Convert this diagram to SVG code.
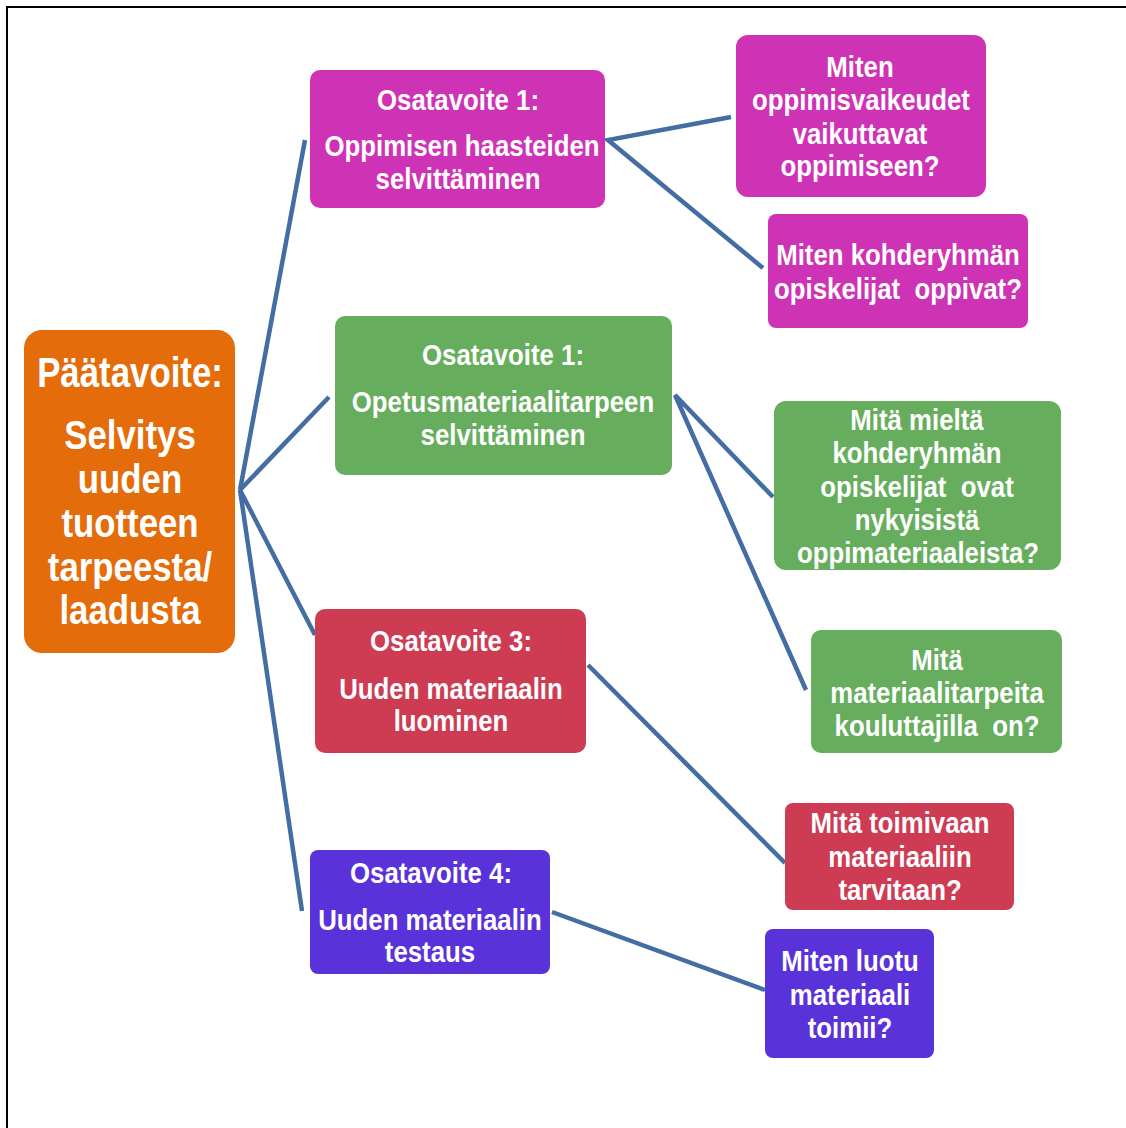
<svg xmlns="http://www.w3.org/2000/svg" width="1126" height="1128" viewBox="0 0 1126 1128">
<style>
.t{font-family:"Liberation Sans","Arial",sans-serif;font-weight:bold;fill:#fff;text-anchor:middle;font-size:30px}
.big{font-size:40px}
.c{stroke:#436DA3;stroke-width:4.5;fill:none;stroke-linecap:butt}
.mg{fill:#CF33B5}.gr{fill:#66AE5D}.rd{fill:#CE3C54}.pu{fill:#5A32D9}.or{fill:#E46C0A}
</style>
<rect width="1126" height="1128" fill="#fff"/>
<path d="M7 1128 V7 H1126" stroke="#000" stroke-width="2" fill="none"/>
<g id="connectors">
<line class="c" x1="240" y1="490" x2="305" y2="140"/>
<line class="c" x1="240" y1="490" x2="329" y2="397"/>
<line class="c" x1="240" y1="490" x2="315" y2="635"/>
<line class="c" x1="240" y1="490" x2="302" y2="911"/>
<polyline class="c" points="731,117 608,140 763,268"/>
<polyline class="c" points="773,497 675,395 806,690"/>
<line class="c" x1="588" y1="665" x2="785" y2="863"/>
<line class="c" x1="552" y1="912" x2="765" y2="990"/>
</g>
<g id="main">
<rect class="or" x="24" y="330" width="211" height="323" rx="18"/>
<text class="t" style="font-size:43px" transform="matrix(.81 0 0 1 130 0)" y="387">Päätavoite:</text>
<text class="t big" transform="matrix(.87 0 0 1 130 0)" y="449">Selvitys</text>
<text class="t big" transform="matrix(.87 0 0 1 130 0)" y="493">uuden</text>
<text class="t big" transform="matrix(.87 0 0 1 130 0)" y="537">tuotteen</text>
<text class="t big" transform="matrix(.87 0 0 1 130 0)" y="581">tarpeesta/</text>
<text class="t big" transform="matrix(.87 0 0 1 130 0)" y="624">laadusta</text>
</g>
<g id="osa1">
<rect class="mg" x="310" y="70" width="295" height="138" rx="10"/>
<text class="t" transform="matrix(.86 0 0 1 458 0)" y="110">Osatavoite 1:</text>
<text class="t" transform="matrix(.86 0 0 1 462 0)" y="156">Oppimisen haasteiden</text>
<text class="t" transform="matrix(.86 0 0 1 458 0)" y="189">selvittäminen</text>
</g>
<g id="q1a">
<rect class="mg" x="736" y="35" width="250" height="162" rx="12"/>
<text class="t" transform="matrix(.86 0 0 1 860 0)" y="77">Miten</text>
<text class="t" transform="matrix(.86 0 0 1 861 0)" y="110">oppimisvaikeudet</text>
<text class="t" transform="matrix(.86 0 0 1 860 0)" y="144">vaikuttavat</text>
<text class="t" transform="matrix(.86 0 0 1 860 0)" y="176">oppimiseen?</text>
</g>
<g id="q1b">
<rect class="mg" x="768" y="214" width="260" height="114" rx="8"/>
<text class="t" transform="matrix(.86 0 0 1 898 0)" y="265">Miten kohderyhmän</text>
<text class="t" transform="matrix(.86 0 0 1 898 0)" y="299" xml:space="preserve">opiskelijat  oppivat?</text>
</g>
<g id="osa2">
<rect class="gr" x="335" y="316" width="337" height="159" rx="10"/>
<text class="t" transform="matrix(.86 0 0 1 503 0)" y="365">Osatavoite 1:</text>
<text class="t" transform="matrix(.86 0 0 1 503 0)" y="412">Opetusmateriaalitarpeen</text>
<text class="t" transform="matrix(.86 0 0 1 503 0)" y="445">selvittäminen</text>
</g>
<g id="q2a">
<rect class="gr" x="774" y="401" width="287" height="169" rx="12"/>
<text class="t" transform="matrix(.86 0 0 1 917 0)" y="430">Mitä mieltä</text>
<text class="t" transform="matrix(.86 0 0 1 917 0)" y="463">kohderyhmän</text>
<text class="t" transform="matrix(.86 0 0 1 917 0)" y="497" xml:space="preserve">opiskelijat  ovat</text>
<text class="t" transform="matrix(.86 0 0 1 917 0)" y="530">nykyisistä</text>
<text class="t" transform="matrix(.86 0 0 1 918 0)" y="563">oppimateriaaleista?</text>
</g>
<g id="q2b">
<rect class="gr" x="811" y="630" width="251" height="123" rx="10"/>
<text class="t" transform="matrix(.86 0 0 1 937 0)" y="670">Mitä</text>
<text class="t" transform="matrix(.86 0 0 1 937 0)" y="703">materiaalitarpeita</text>
<text class="t" transform="matrix(.86 0 0 1 937 0)" y="736" xml:space="preserve">kouluttajilla  on?</text>
</g>
<g id="osa3">
<rect class="rd" x="315" y="609" width="271" height="144" rx="10"/>
<text class="t" transform="matrix(.86 0 0 1 451 0)" y="651">Osatavoite 3:</text>
<text class="t" transform="matrix(.86 0 0 1 451 0)" y="699">Uuden materiaalin</text>
<text class="t" transform="matrix(.86 0 0 1 451 0)" y="731">luominen</text>
</g>
<g id="q3">
<rect class="rd" x="785" y="803" width="229" height="107" rx="8"/>
<text class="t" transform="matrix(.86 0 0 1 900 0)" y="833">Mitä toimivaan</text>
<text class="t" transform="matrix(.86 0 0 1 900 0)" y="867">materiaaliin</text>
<text class="t" transform="matrix(.86 0 0 1 900 0)" y="900">tarvitaan?</text>
</g>
<g id="osa4">
<rect class="pu" x="310" y="850" width="240" height="124" rx="8"/>
<text class="t" transform="matrix(.86 0 0 1 431 0)" y="883">Osatavoite 4:</text>
<text class="t" transform="matrix(.86 0 0 1 430 0)" y="930">Uuden materiaalin</text>
<text class="t" transform="matrix(.86 0 0 1 430 0)" y="962">testaus</text>
</g>
<g id="q4">
<rect class="pu" x="765" y="929" width="169" height="129" rx="8"/>
<text class="t" transform="matrix(.86 0 0 1 850 0)" y="971">Miten luotu</text>
<text class="t" transform="matrix(.86 0 0 1 850 0)" y="1005">materiaali</text>
<text class="t" transform="matrix(.86 0 0 1 850 0)" y="1038">toimii?</text>
</g>
</svg>
